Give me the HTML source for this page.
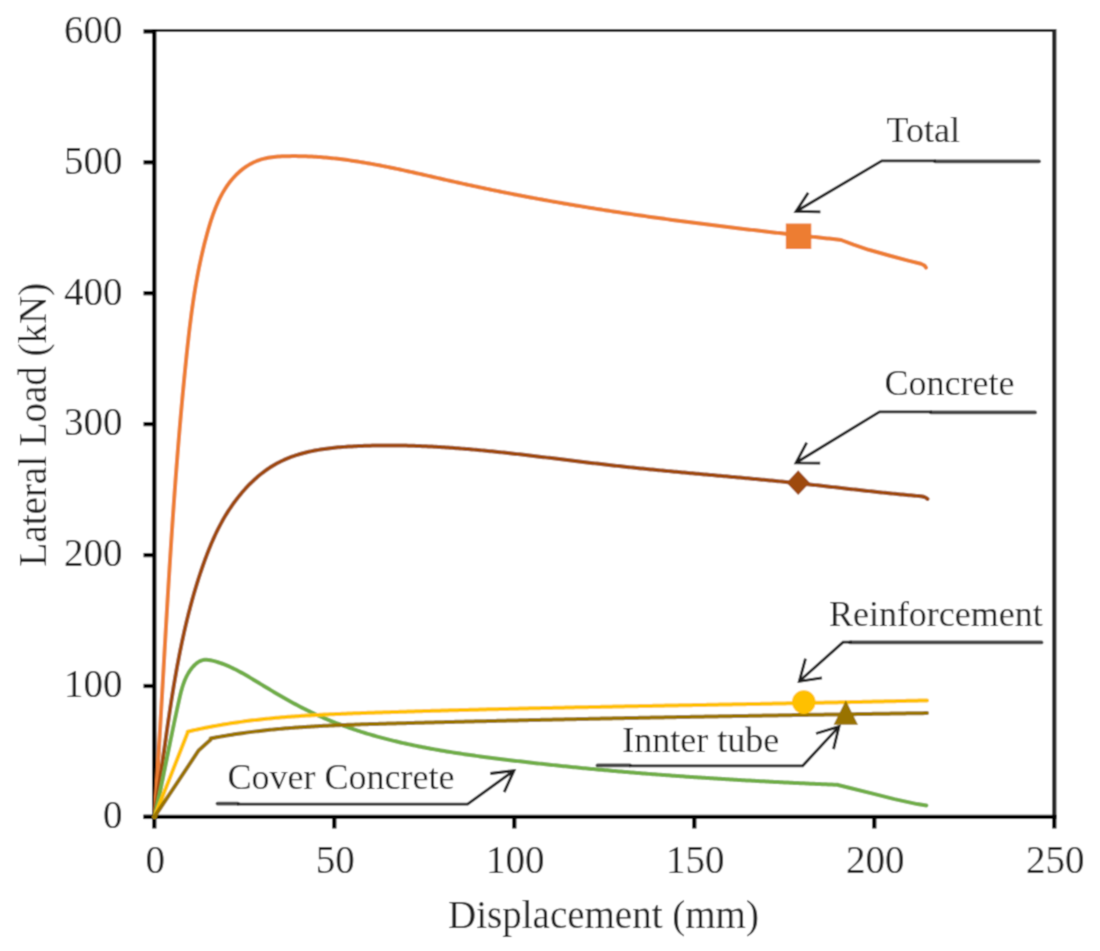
<!DOCTYPE html>
<html><head><meta charset="utf-8"><style>
html,body{margin:0;padding:0;background:#fff;}
svg{display:block;will-change:transform;}
text{font-family:"Liberation Serif", serif;fill:#222;}
</style></head><body>
<svg width="1100" height="951" viewBox="0 0 1100 951">
<defs><filter id="soft" x="0" y="0" width="1100" height="951" filterUnits="userSpaceOnUse"><feConvolveMatrix order="3" kernelMatrix="0.04 0.12 0.04 0.12 0.36 0.12 0.04 0.12 0.04" edgeMode="duplicate"/></filter></defs>
<g filter="url(#soft)">
<rect width="1100" height="951" fill="#fff"/>
<!-- plot border top/right -->
<path d="M156,30.5 H1054.3" fill="none" stroke="#262626" stroke-width="2.8"/>
<path d="M1054.3,29.1 V817" fill="none" stroke="#262626" stroke-width="4.3"/>
<!-- axes -->
<g stroke="#000" stroke-width="4.3" fill="none">
<line x1="154.3" y1="29.2" x2="154.3" y2="819"/>
<line x1="143.5" y1="816.9" x2="1056.5" y2="816.9"/>
<line x1="143.5" y1="816.9" x2="156" y2="816.9"/><line x1="143.5" y1="686.0" x2="156" y2="686.0"/><line x1="143.5" y1="555.1" x2="156" y2="555.1"/><line x1="143.5" y1="424.1" x2="156" y2="424.1"/><line x1="143.5" y1="293.2" x2="156" y2="293.2"/><line x1="143.5" y1="162.3" x2="156" y2="162.3"/><line x1="143.5" y1="31.4" x2="156" y2="31.4"/>
<line x1="154.3" y1="815" x2="154.3" y2="828.5"/><line x1="334.3" y1="815" x2="334.3" y2="828.5"/><line x1="514.3" y1="815" x2="514.3" y2="828.5"/><line x1="694.3" y1="815" x2="694.3" y2="828.5"/><line x1="874.3" y1="815" x2="874.3" y2="828.5"/><line x1="1054.3" y1="815" x2="1054.3" y2="828.5"/>
</g>
<!-- curves -->
<g fill="none" stroke-width="4" stroke-linejoin="round" stroke-linecap="round">
<path d="M154.72,816.77 L154.85,814.78 L154.98,812.80 L155.11,810.81 L155.24,808.83 L155.36,806.84 L155.49,804.85 L155.62,802.87 L155.74,800.88 L155.87,798.89 L156.00,796.91 L156.12,794.92 L156.25,792.93 L156.37,790.94 L156.49,788.96 L156.62,786.97 L156.74,784.98 L156.86,782.99 L156.99,781.00 L157.11,779.01 L157.23,777.02 L157.35,775.03 L157.47,773.04 L157.59,771.05 L157.71,769.06 L157.83,767.07 L157.95,765.08 L158.07,763.09 L158.19,761.10 L158.31,759.11 L158.43,757.11 L158.55,755.12 L158.67,753.13 L158.79,751.14 L158.91,749.14 L159.02,747.15 L159.14,745.16 L159.26,743.17 L159.38,741.17 L159.49,739.18 L159.61,737.18 L159.73,735.19 L159.84,733.20 L159.96,731.20 L160.07,729.21 L160.19,727.21 L160.31,725.22 L160.42,723.22 L160.54,721.23 L160.65,719.23 L160.77,717.24 L160.88,715.24 L161.00,713.25 L161.11,711.25 L161.23,709.25 L161.34,707.26 L161.46,705.26 L161.57,703.27 L161.69,701.27 L161.80,699.27 L161.92,697.28 L162.03,695.28 L162.14,693.28 L162.26,691.28 L162.37,689.29 L162.49,687.29 L162.60,685.29 L162.72,683.30 L162.83,681.30 L162.94,679.30 L163.06,677.30 L163.17,675.30 L163.29,673.31 L163.40,671.31 L163.52,669.31 L163.63,667.31 L163.74,665.31 L163.86,663.31 L163.97,661.31 L164.09,659.32 L164.20,657.32 L164.32,655.32 L164.43,653.32 L164.55,651.32 L164.66,649.32 L164.78,647.32 L164.89,645.32 L165.01,643.32 L165.13,641.32 L165.24,639.33 L165.36,637.33 L165.47,635.33 L165.59,633.33 L165.71,631.33 L165.82,629.33 L165.94,627.33 L166.06,625.33 L166.17,623.33 L166.29,621.33 L166.41,619.33 L166.53,617.33 L166.65,615.33 L166.76,613.33 L166.88,611.33 L167.00,609.33 L167.12,607.33 L167.24,605.33 L167.36,603.33 L167.48,601.33 L167.60,599.33 L167.72,597.33 L167.84,595.33 L167.96,593.33 L168.08,591.33 L168.21,589.34 L168.33,587.34 L168.45,585.34 L168.57,583.34 L168.70,581.34 L168.82,579.34 L168.94,577.34 L169.07,575.34 L169.19,573.34 L169.32,571.34 L169.44,569.34 L169.57,567.34 L169.69,565.34 L169.82,563.34 L169.95,561.34 L170.07,559.35 L170.20,557.35 L170.33,555.35 L170.46,553.35 L170.59,551.35 L170.72,549.35 L170.85,547.35 L170.98,545.35 L171.11,543.36 L171.24,541.36 L171.37,539.36 L171.50,537.36 L171.64,535.36 L171.77,533.36 L171.90,531.37 L172.04,529.37 L172.17,527.37 L172.31,525.37 L172.44,523.38 L172.58,521.38 L172.72,519.38 L172.85,517.38 L172.99,515.39 L173.13,513.39 L173.27,511.39 L173.41,509.40 L173.55,507.40 L173.69,505.41 L173.83,503.41 L173.98,501.41 L174.12,499.42 L174.26,497.42 L174.41,495.43 L174.55,493.43 L174.70,491.43 L174.84,489.44 L174.99,487.44 L175.14,485.45 L175.29,483.46 L175.43,481.46 L175.58,479.47 L175.73,477.47 L175.88,475.48 L176.04,473.48 L176.19,471.49 L176.34,469.50 L176.50,467.50 L176.65,465.51 L176.81,463.52 L176.96,461.53 L177.12,459.53 L177.28,457.54 L177.43,455.55 L177.59,453.56 L177.75,451.57 L177.91,449.57 L178.08,447.58 L178.24,445.59 L178.40,443.60 L178.56,441.61 L178.73,439.62 L178.89,437.63 L179.06,435.64 L179.23,433.65 L179.40,431.66 L179.57,429.67 L179.74,427.68 L179.91,425.69 L180.08,423.71 L180.25,421.72 L180.42,419.73 L180.60,417.74 L180.77,415.75 L180.95,413.77 L181.13,411.78 L181.30,409.79 L181.48,407.81 L181.66,405.82 L181.84,403.83 L182.03,401.85 L182.21,399.86 L182.39,397.88 L182.58,395.89 L182.76,393.91 L182.95,391.93 L183.14,389.94 L183.32,387.96 L183.51,385.97 L183.71,383.99 L183.90,382.01 L184.09,380.03 L184.28,378.04 L184.48,376.06 L184.67,374.08 L184.87,372.10 L185.07,370.12 L185.27,368.14 L185.47,366.16 L185.67,364.18 L185.87,362.20 L186.07,360.22 L186.28,358.24 L186.48,356.26 L186.69,354.29 L186.90,352.31 L187.11,350.33 L187.32,348.35 L187.53,346.38 L187.75,344.40 L187.97,342.42 L188.19,340.45 L188.41,338.47 L188.63,336.50 L188.86,334.52 L189.09,332.55 L189.32,330.57 L189.55,328.60 L189.79,326.62 L190.03,324.65 L190.28,322.67 L190.53,320.70 L190.78,318.73 L191.04,316.76 L191.30,314.78 L191.56,312.81 L191.83,310.84 L192.10,308.86 L192.38,306.89 L192.66,304.92 L192.95,302.95 L193.24,300.98 L193.53,299.01 L193.83,297.03 L194.14,295.06 L194.45,293.09 L194.77,291.12 L195.10,289.15 L195.42,287.18 L195.76,285.21 L196.10,283.24 L196.45,281.27 L196.80,279.30 L197.16,277.33 L197.53,275.35 L197.90,273.38 L198.29,271.41 L198.67,269.44 L199.07,267.47 L199.47,265.50 L199.88,263.53 L200.30,261.56 L200.72,259.59 L201.16,257.62 L201.60,255.65 L202.05,253.68 L202.51,251.71 L202.97,249.74 L203.45,247.77 L203.93,245.80 L204.42,243.83 L204.92,241.86 L205.43,239.89 L205.95,237.92 L206.48,235.95 L207.02,233.98 L207.57,232.01 L208.12,230.04 L208.69,228.07 L209.28,226.10 L209.87,224.14 L210.48,222.18 L211.10,220.23 L211.74,218.29 L212.40,216.35 L213.07,214.42 L213.77,212.50 L214.48,210.60 L215.22,208.70 L215.98,206.82 L216.76,204.96 L217.56,203.11 L218.39,201.28 L219.25,199.46 L220.13,197.67 L221.04,195.89 L221.98,194.14 L222.95,192.40 L223.95,190.69 L224.99,189.01 L226.05,187.35 L227.15,185.72 L228.29,184.11 L229.46,182.54 L230.67,180.99 L231.91,179.48 L233.20,177.99 L234.52,176.54 L235.89,175.13 L237.29,173.75 L238.73,172.42 L240.20,171.12 L241.72,169.87 L243.26,168.67 L244.84,167.51 L246.46,166.41 L248.10,165.36 L249.78,164.37 L251.49,163.43 L253.22,162.55 L254.99,161.74 L256.78,160.99 L258.60,160.31 L260.44,159.69 L262.31,159.14 L264.20,158.65 L266.11,158.22 L268.04,157.83 L269.99,157.50 L271.95,157.21 L273.92,156.97 L275.91,156.76 L277.90,156.60 L279.91,156.46 L281.91,156.35 L283.93,156.26 L285.94,156.20 L287.96,156.16 L289.98,156.13 L291.99,156.11 L294.01,156.10 L296.02,156.11 L298.03,156.13 L300.04,156.16 L302.04,156.21 L304.05,156.26 L306.05,156.33 L308.06,156.41 L310.06,156.50 L312.06,156.60 L314.05,156.71 L316.05,156.83 L318.05,156.96 L320.04,157.11 L322.04,157.26 L324.03,157.42 L326.02,157.59 L328.01,157.78 L330.00,157.97 L331.98,158.17 L333.97,158.38 L335.95,158.60 L337.94,158.83 L339.92,159.06 L341.90,159.31 L343.88,159.56 L345.86,159.82 L347.84,160.09 L349.81,160.37 L351.79,160.66 L353.77,160.95 L355.74,161.25 L357.71,161.55 L359.69,161.87 L361.66,162.19 L363.63,162.51 L365.60,162.85 L367.57,163.19 L369.54,163.53 L371.51,163.88 L373.47,164.24 L375.44,164.60 L377.40,164.97 L379.37,165.34 L381.33,165.72 L383.30,166.10 L385.26,166.49 L387.22,166.88 L389.19,167.28 L391.15,167.68 L393.11,168.08 L395.07,168.49 L397.03,168.90 L398.99,169.32 L400.95,169.74 L402.91,170.16 L404.86,170.59 L406.82,171.01 L408.78,171.44 L410.74,171.88 L412.69,172.31 L414.65,172.75 L416.61,173.19 L418.56,173.63 L420.52,174.07 L422.48,174.51 L424.43,174.96 L426.39,175.40 L428.34,175.85 L430.30,176.30 L432.25,176.75 L434.21,177.19 L436.17,177.64 L438.12,178.09 L440.08,178.54 L442.03,178.99 L443.99,179.44 L445.94,179.88 L447.90,180.33 L449.85,180.78 L451.81,181.22 L453.77,181.66 L455.72,182.10 L457.68,182.54 L459.63,182.98 L461.59,183.42 L463.55,183.85 L465.51,184.28 L467.46,184.71 L469.42,185.14 L471.38,185.56 L473.34,185.99 L475.30,186.41 L477.26,186.83 L479.22,187.25 L481.17,187.66 L483.13,188.07 L485.09,188.49 L487.05,188.89 L489.02,189.30 L490.98,189.71 L492.94,190.11 L494.90,190.51 L496.86,190.91 L498.82,191.31 L500.78,191.70 L502.75,192.10 L504.71,192.49 L506.67,192.88 L508.63,193.27 L510.60,193.65 L512.56,194.04 L514.52,194.42 L516.49,194.80 L518.45,195.18 L520.42,195.56 L522.38,195.93 L524.35,196.31 L526.31,196.68 L528.28,197.05 L530.24,197.42 L532.21,197.78 L534.17,198.15 L536.14,198.51 L538.11,198.87 L540.07,199.23 L542.04,199.59 L544.01,199.94 L545.98,200.30 L547.94,200.65 L549.91,201.00 L551.88,201.35 L553.85,201.70 L555.82,202.04 L557.79,202.39 L559.75,202.73 L561.72,203.07 L563.69,203.41 L565.66,203.75 L567.63,204.09 L569.60,204.42 L571.57,204.75 L573.54,205.09 L575.51,205.42 L577.49,205.74 L579.46,206.07 L581.43,206.40 L583.40,206.72 L585.37,207.04 L587.34,207.36 L589.32,207.68 L591.29,208.00 L593.26,208.32 L595.23,208.64 L597.21,208.95 L599.18,209.26 L601.15,209.57 L603.13,209.88 L605.10,210.19 L607.08,210.50 L609.05,210.80 L611.02,211.11 L613.00,211.41 L614.97,211.71 L616.95,212.01 L618.92,212.31 L620.90,212.61 L622.87,212.91 L624.85,213.20 L626.83,213.49 L628.80,213.79 L630.78,214.08 L632.76,214.37 L634.73,214.66 L636.71,214.95 L638.69,215.23 L640.66,215.52 L642.64,215.80 L644.62,216.08 L646.60,216.37 L648.57,216.65 L650.55,216.92 L652.53,217.20 L654.51,217.48 L656.49,217.76 L658.47,218.03 L660.45,218.30 L662.43,218.58 L664.41,218.85 L666.39,219.12 L668.37,219.39 L670.35,219.66 L672.33,219.92 L674.31,220.19 L676.29,220.46 L678.27,220.72 L680.25,220.98 L682.23,221.25 L684.21,221.51 L686.19,221.77 L688.17,222.03 L690.15,222.29 L692.14,222.54 L694.12,222.80 L696.10,223.05 L698.08,223.31 L700.06,223.56 L702.05,223.82 L704.03,224.07 L706.01,224.32 L708.00,224.57 L709.98,224.82 L711.96,225.07 L713.95,225.32 L715.93,225.56 L717.91,225.81 L719.90,226.05 L721.88,226.30 L723.87,226.54 L725.85,226.79 L727.83,227.03 L729.82,227.27 L731.80,227.51 L733.79,227.75 L735.77,227.99 L737.76,228.23 L739.74,228.47 L741.73,228.70 L743.72,228.94 L745.70,229.18 L747.69,229.41 L749.67,229.64 L751.66,229.88 L753.65,230.11 L755.63,230.34 L757.62,230.58 L759.61,230.81 L761.59,231.04 L763.58,231.27 L765.57,231.50 L767.55,231.73 L769.54,231.96 L771.53,232.18 L773.52,232.41 L775.50,232.64 L777.49,232.87 L779.48,233.09 L781.47,233.32 L783.46,233.54 L785.44,233.77 L787.43,233.99 L789.42,234.22 L791.41,234.44 L793.40,234.66 L795.39,234.88 L797.38,235.11 L799.37,235.33 L801.36,235.55 L803.34,235.77 L805.33,235.99 L807.32,236.21 L809.31,236.43 L811.30,236.65 L813.29,236.87 L815.28,237.09 L817.27,237.31 L819.26,237.52 L821.25,237.74 L823.24,237.96 L825.23,238.18 L827.23,238.39 L829.22,238.61 L831.21,238.83 L833.20,239.04 L835.19,239.26 L837.18,239.48 L839.17,239.69 L841.16,239.91 L841.1,240.0 L853.5,244.7 L868.7,249.8 L889.1,255.5 L908.2,260.6 L920.9,263.8 L924.5,265.5 L926.0,267.6" stroke="#ED7D31"/>
<path d="M154.54,816.70 L154.84,814.76 L155.15,812.81 L155.45,810.87 L155.74,808.92 L156.04,806.97 L156.33,805.02 L156.63,803.06 L156.92,801.11 L157.21,799.15 L157.50,797.19 L157.78,795.23 L158.07,793.27 L158.35,791.31 L158.64,789.35 L158.92,787.39 L159.20,785.42 L159.48,783.45 L159.76,781.49 L160.04,779.52 L160.32,777.55 L160.60,775.58 L160.87,773.61 L161.15,771.63 L161.42,769.66 L161.70,767.69 L161.98,765.71 L162.25,763.73 L162.53,761.76 L162.80,759.78 L163.08,757.80 L163.35,755.82 L163.63,753.84 L163.90,751.86 L164.18,749.88 L164.46,747.90 L164.74,745.92 L165.01,743.94 L165.29,741.96 L165.57,739.97 L165.85,737.99 L166.13,736.01 L166.42,734.02 L166.70,732.04 L166.98,730.06 L167.27,728.07 L167.56,726.09 L167.84,724.10 L168.13,722.12 L168.42,720.13 L168.72,718.15 L169.01,716.17 L169.31,714.18 L169.60,712.20 L169.90,710.21 L170.21,708.23 L170.51,706.25 L170.82,704.27 L171.12,702.28 L171.43,700.30 L171.75,698.32 L172.06,696.34 L172.38,694.36 L172.70,692.38 L173.02,690.40 L173.35,688.42 L173.67,686.44 L174.01,684.46 L174.34,682.48 L174.68,680.51 L175.02,678.53 L175.36,676.56 L175.71,674.58 L176.05,672.61 L176.41,670.64 L176.76,668.67 L177.12,666.69 L177.49,664.73 L177.86,662.76 L178.23,660.79 L178.60,658.82 L178.98,656.86 L179.36,654.90 L179.75,652.93 L180.14,650.97 L180.54,649.01 L180.94,647.05 L181.34,645.10 L181.75,643.14 L182.16,641.19 L182.58,639.23 L183.00,637.28 L183.43,635.33 L183.86,633.39 L184.29,631.44 L184.74,629.50 L185.18,627.55 L185.63,625.61 L186.09,623.67 L186.55,621.73 L187.02,619.80 L187.49,617.86 L187.97,615.93 L188.45,614.00 L188.94,612.08 L189.44,610.15 L189.94,608.23 L190.45,606.30 L190.96,604.38 L191.48,602.47 L192.00,600.55 L192.53,598.64 L193.07,596.73 L193.62,594.82 L194.17,592.92 L194.72,591.01 L195.29,589.11 L195.85,587.21 L196.43,585.32 L197.01,583.42 L197.60,581.53 L198.20,579.64 L198.80,577.76 L199.42,575.88 L200.03,574.00 L200.66,572.12 L201.29,570.24 L201.93,568.37 L202.58,566.50 L203.23,564.64 L203.90,562.78 L204.57,560.92 L205.25,559.06 L205.93,557.21 L206.63,555.36 L207.33,553.51 L208.05,551.67 L208.78,549.83 L209.51,547.99 L210.26,546.16 L211.02,544.34 L211.80,542.51 L212.59,540.70 L213.39,538.89 L214.20,537.08 L215.03,535.28 L215.88,533.48 L216.74,531.69 L217.62,529.91 L218.52,528.13 L219.43,526.35 L220.36,524.59 L221.31,522.83 L222.28,521.07 L223.26,519.32 L224.27,517.58 L225.30,515.85 L226.35,514.12 L227.42,512.41 L228.51,510.69 L229.63,508.99 L230.77,507.29 L231.93,505.61 L233.11,503.93 L234.31,502.27 L235.54,500.62 L236.79,498.98 L238.05,497.36 L239.34,495.75 L240.65,494.15 L241.98,492.58 L243.32,491.02 L244.69,489.48 L246.08,487.96 L247.49,486.46 L248.91,484.98 L250.36,483.53 L251.82,482.09 L253.30,480.68 L254.80,479.30 L256.32,477.94 L257.85,476.61 L259.40,475.31 L260.97,474.04 L262.55,472.79 L264.16,471.58 L265.77,470.40 L267.41,469.25 L269.06,468.13 L270.72,467.05 L272.40,466.00 L274.10,464.99 L275.81,464.02 L277.53,463.08 L279.27,462.17 L281.03,461.30 L282.79,460.46 L284.57,459.65 L286.36,458.88 L288.17,458.13 L289.98,457.42 L291.81,456.74 L293.65,456.08 L295.50,455.45 L297.36,454.85 L299.23,454.28 L301.10,453.73 L302.99,453.21 L304.89,452.71 L306.80,452.24 L308.71,451.79 L310.63,451.36 L312.56,450.96 L314.50,450.57 L316.45,450.21 L318.40,449.87 L320.35,449.54 L322.32,449.23 L324.28,448.95 L326.26,448.67 L328.23,448.42 L330.22,448.18 L332.20,447.95 L334.19,447.74 L336.18,447.55 L338.18,447.36 L340.18,447.19 L342.18,447.03 L344.18,446.88 L346.18,446.74 L348.19,446.61 L350.19,446.49 L352.20,446.38 L354.20,446.27 L356.21,446.17 L358.21,446.08 L360.22,445.99 L362.22,445.91 L364.23,445.84 L366.23,445.77 L368.23,445.71 L370.23,445.65 L372.24,445.60 L374.24,445.56 L376.24,445.52 L378.24,445.49 L380.24,445.46 L382.24,445.44 L384.24,445.43 L386.24,445.42 L388.24,445.41 L390.24,445.42 L392.24,445.42 L394.24,445.44 L396.24,445.46 L398.23,445.48 L400.23,445.51 L402.23,445.54 L404.22,445.58 L406.22,445.62 L408.22,445.67 L410.21,445.73 L412.21,445.78 L414.20,445.85 L416.20,445.91 L418.19,445.99 L420.19,446.06 L422.18,446.14 L424.18,446.23 L426.17,446.32 L428.16,446.42 L430.16,446.51 L432.15,446.62 L434.14,446.72 L436.13,446.83 L438.13,446.95 L440.12,447.07 L442.11,447.19 L444.10,447.32 L446.09,447.45 L448.08,447.58 L450.07,447.72 L452.06,447.86 L454.05,448.01 L456.04,448.15 L458.03,448.31 L460.02,448.46 L462.01,448.62 L464.00,448.78 L465.99,448.95 L467.98,449.11 L469.97,449.28 L471.96,449.46 L473.94,449.63 L475.93,449.81 L477.92,449.99 L479.91,450.18 L481.89,450.37 L483.88,450.56 L485.87,450.75 L487.86,450.94 L489.84,451.14 L491.83,451.34 L493.82,451.54 L495.80,451.75 L497.79,451.95 L499.77,452.16 L501.76,452.37 L503.75,452.58 L505.73,452.80 L507.72,453.01 L509.70,453.23 L511.69,453.45 L513.67,453.67 L515.66,453.89 L517.64,454.12 L519.63,454.34 L521.61,454.57 L523.60,454.80 L525.58,455.03 L527.57,455.26 L529.55,455.49 L531.54,455.72 L533.52,455.96 L535.51,456.19 L537.49,456.43 L539.47,456.66 L541.46,456.90 L543.44,457.14 L545.43,457.38 L547.41,457.62 L549.39,457.86 L551.38,458.10 L553.36,458.34 L555.35,458.58 L557.33,458.82 L559.31,459.06 L561.30,459.30 L563.28,459.54 L565.26,459.79 L567.25,460.03 L569.23,460.27 L571.22,460.51 L573.20,460.75 L575.18,460.99 L577.17,461.23 L579.15,461.47 L581.13,461.71 L583.12,461.95 L585.10,462.19 L587.09,462.43 L589.07,462.67 L591.05,462.90 L593.04,463.14 L595.02,463.37 L597.00,463.61 L598.99,463.84 L600.97,464.07 L602.96,464.30 L604.94,464.53 L606.93,464.76 L608.91,464.99 L610.89,465.21 L612.88,465.44 L614.86,465.66 L616.85,465.88 L618.83,466.10 L620.82,466.32 L622.80,466.53 L624.79,466.75 L626.77,466.96 L628.76,467.17 L630.74,467.38 L632.73,467.59 L634.71,467.79 L636.70,468.00 L638.68,468.20 L640.67,468.40 L642.66,468.61 L644.64,468.81 L646.63,469.01 L648.61,469.20 L650.60,469.40 L652.58,469.59 L654.57,469.79 L656.56,469.98 L658.54,470.17 L660.53,470.37 L662.52,470.56 L664.50,470.75 L666.49,470.93 L668.47,471.12 L670.46,471.31 L672.45,471.49 L674.43,471.68 L676.42,471.86 L678.41,472.05 L680.39,472.23 L682.38,472.41 L684.37,472.60 L686.35,472.78 L688.34,472.96 L690.33,473.14 L692.32,473.32 L694.30,473.50 L696.29,473.68 L698.28,473.86 L700.26,474.04 L702.25,474.22 L704.24,474.40 L706.23,474.57 L708.21,474.75 L710.20,474.93 L712.19,475.11 L714.18,475.29 L716.16,475.46 L718.15,475.64 L720.14,475.82 L722.13,476.00 L724.11,476.18 L726.10,476.36 L728.09,476.54 L730.08,476.71 L732.06,476.89 L734.05,477.07 L736.04,477.25 L738.03,477.43 L740.01,477.61 L742.00,477.80 L743.99,477.98 L745.98,478.16 L747.97,478.34 L749.95,478.53 L751.94,478.71 L753.93,478.89 L755.92,479.08 L757.90,479.27 L759.89,479.45 L761.88,479.64 L763.87,479.83 L765.85,480.02 L767.84,480.21 L769.83,480.40 L771.82,480.59 L773.81,480.78 L775.79,480.98 L777.78,481.17 L779.77,481.37 L781.76,481.57 L783.74,481.77 L785.73,481.97 L787.72,482.17 L789.71,482.37 L791.69,482.57 L793.68,482.78 L795.67,482.99 L797.66,483.19 L799.64,483.40 L801.63,483.61 L803.62,483.83 L805.61,484.04 L807.59,484.26 L809.58,484.47 L811.57,484.69 L813.56,484.91 L815.54,485.13 L817.53,485.35 L819.52,485.57 L821.50,485.79 L823.49,486.01 L825.48,486.23 L827.46,486.45 L829.45,486.68 L831.44,486.90 L833.42,487.13 L835.41,487.35 L837.40,487.57 L839.38,487.80 L841.37,488.02 L843.35,488.25 L845.34,488.47 L847.32,488.70 L849.31,488.92 L851.29,489.14 L853.28,489.37 L855.26,489.59 L857.25,489.81 L859.23,490.03 L861.22,490.25 L863.20,490.47 L865.18,490.69 L867.17,490.91 L869.15,491.13 L871.14,491.34 L873.12,491.56 L875.10,491.77 L877.08,491.99 L879.07,492.20 L881.05,492.41 L883.03,492.62 L885.01,492.82 L886.99,493.03 L888.97,493.23 L890.96,493.43 L892.94,493.63 L894.92,493.83 L896.90,494.03 L898.88,494.22 L900.86,494.41 L902.84,494.60 L904.81,494.79 L906.79,494.98 L908.77,495.16 L910.75,495.34 L912.73,495.52 L914.71,495.69 L916.68,495.87 L918.66,496.04 L920.62,496.23 L922.52,496.54 L924.33,497.04 L925.99,497.81 L927.47,498.94" stroke="#9E480E"/>
<path d="M154.57,816.95 L155.01,814.97 L155.45,813.00 L155.89,811.03 L156.32,809.06 L156.75,807.09 L157.18,805.13 L157.61,803.17 L158.03,801.21 L158.45,799.25 L158.87,797.29 L159.28,795.33 L159.70,793.38 L160.11,791.43 L160.52,789.48 L160.92,787.53 L161.33,785.58 L161.73,783.63 L162.14,781.68 L162.54,779.74 L162.94,777.79 L163.34,775.85 L163.73,773.91 L164.13,771.96 L164.52,770.02 L164.92,768.08 L165.31,766.14 L165.71,764.20 L166.10,762.26 L166.49,760.32 L166.89,758.37 L167.28,756.43 L167.67,754.49 L168.07,752.55 L168.46,750.61 L168.85,748.67 L169.25,746.73 L169.64,744.78 L170.04,742.84 L170.44,740.90 L170.83,738.95 L171.23,737.00 L171.63,735.06 L172.03,733.11 L172.43,731.16 L172.84,729.21 L173.24,727.26 L173.65,725.30 L174.06,723.35 L174.47,721.39 L174.89,719.43 L175.30,717.47 L175.72,715.51 L176.14,713.55 L176.56,711.58 L176.99,709.62 L177.42,707.65 L177.85,705.67 L178.28,703.70 L178.72,701.72 L179.16,699.74 L179.61,697.76 L180.07,695.78 L180.54,693.81 L181.04,691.84 L181.57,689.88 L182.12,687.94 L182.72,686.00 L183.35,684.09 L184.04,682.20 L184.78,680.32 L185.57,678.48 L186.43,676.66 L187.36,674.87 L188.36,673.12 L189.44,671.40 L190.61,669.72 L191.86,668.08 L193.21,666.49 L194.65,664.99 L196.16,663.60 L197.76,662.38 L199.43,661.35 L201.15,660.57 L202.94,660.06 L204.77,659.81 L206.64,659.79 L208.54,659.94 L210.45,660.25 L212.36,660.66 L214.27,661.14 L216.16,661.67 L218.04,662.24 L219.90,662.85 L221.75,663.50 L223.59,664.18 L225.41,664.90 L227.22,665.65 L229.02,666.43 L230.81,667.25 L232.59,668.08 L234.37,668.95 L236.13,669.84 L237.89,670.75 L239.64,671.68 L241.38,672.63 L243.12,673.60 L244.85,674.58 L246.58,675.58 L248.31,676.59 L250.03,677.61 L251.75,678.64 L253.47,679.68 L255.19,680.72 L256.91,681.76 L258.63,682.81 L260.35,683.86 L262.07,684.91 L263.79,685.95 L265.52,687.00 L267.25,688.04 L268.98,689.08 L270.71,690.12 L272.44,691.15 L274.18,692.19 L275.92,693.21 L277.66,694.23 L279.40,695.25 L281.15,696.26 L282.89,697.27 L284.65,698.27 L286.40,699.27 L288.16,700.25 L289.92,701.23 L291.68,702.21 L293.45,703.17 L295.22,704.13 L296.99,705.07 L298.77,706.01 L300.55,706.94 L302.33,707.86 L304.12,708.77 L305.91,709.66 L307.70,710.55 L309.50,711.42 L311.30,712.29 L313.11,713.14 L314.92,713.98 L316.73,714.82 L318.55,715.64 L320.37,716.45 L322.19,717.25 L324.02,718.04 L325.85,718.81 L327.68,719.58 L329.52,720.34 L331.36,721.09 L333.21,721.83 L335.05,722.56 L336.90,723.28 L338.76,723.99 L340.61,724.69 L342.47,725.38 L344.34,726.06 L346.20,726.74 L348.07,727.40 L349.94,728.05 L351.82,728.70 L353.70,729.34 L355.58,729.97 L357.46,730.59 L359.35,731.20 L361.24,731.80 L363.13,732.39 L365.02,732.98 L366.92,733.56 L368.82,734.13 L370.72,734.69 L372.62,735.24 L374.53,735.79 L376.44,736.33 L378.35,736.86 L380.26,737.38 L382.18,737.90 L384.10,738.41 L386.02,738.91 L387.94,739.40 L389.87,739.89 L391.79,740.37 L393.72,740.85 L395.65,741.31 L397.59,741.77 L399.52,742.23 L401.46,742.68 L403.40,743.12 L405.34,743.55 L407.28,743.98 L409.23,744.40 L411.17,744.82 L413.12,745.23 L415.07,745.64 L417.02,746.04 L418.97,746.43 L420.93,746.82 L422.88,747.20 L424.84,747.58 L426.80,747.95 L428.76,748.32 L430.72,748.68 L432.69,749.04 L434.65,749.39 L436.61,749.74 L438.58,750.09 L440.55,750.42 L442.52,750.76 L444.49,751.09 L446.46,751.41 L448.43,751.74 L450.40,752.05 L452.38,752.37 L454.35,752.68 L456.33,752.98 L458.31,753.29 L460.28,753.59 L462.26,753.88 L464.24,754.17 L466.22,754.46 L468.20,754.75 L470.18,755.03 L472.16,755.31 L474.15,755.59 L476.13,755.86 L478.11,756.13 L480.10,756.40 L482.08,756.67 L484.06,756.93 L486.05,757.19 L488.03,757.45 L490.02,757.71 L492.00,757.96 L493.99,758.21 L495.97,758.47 L497.96,758.71 L499.95,758.96 L501.93,759.21 L503.92,759.45 L505.90,759.70 L507.89,759.94 L509.87,760.18 L511.86,760.42 L513.85,760.65 L515.83,760.89 L517.82,761.12 L519.80,761.36 L521.79,761.59 L523.77,761.82 L525.76,762.05 L527.74,762.28 L529.73,762.51 L531.71,762.73 L533.70,762.95 L535.68,763.18 L537.67,763.40 L539.65,763.62 L541.64,763.84 L543.62,764.06 L545.61,764.27 L547.59,764.49 L549.58,764.70 L551.56,764.91 L553.55,765.12 L555.53,765.33 L557.52,765.54 L559.50,765.75 L561.49,765.96 L563.47,766.16 L565.46,766.36 L567.44,766.57 L569.43,766.77 L571.41,766.97 L573.40,767.17 L575.38,767.36 L577.37,767.56 L579.35,767.76 L581.34,767.95 L583.32,768.14 L585.31,768.33 L587.29,768.52 L589.28,768.71 L591.26,768.90 L593.25,769.09 L595.23,769.27 L597.22,769.46 L599.20,769.64 L601.19,769.82 L603.17,770.00 L605.16,770.18 L607.14,770.36 L609.13,770.54 L611.11,770.72 L613.10,770.89 L615.08,771.07 L617.07,771.24 L619.06,771.41 L621.04,771.58 L623.03,771.75 L625.01,771.92 L627.00,772.09 L628.98,772.26 L630.97,772.42 L632.95,772.59 L634.94,772.75 L636.93,772.91 L638.91,773.07 L640.90,773.23 L642.88,773.39 L644.87,773.55 L646.86,773.71 L648.84,773.87 L650.83,774.02 L652.81,774.18 L654.80,774.33 L656.79,774.48 L658.77,774.63 L660.76,774.78 L662.75,774.93 L664.73,775.08 L666.72,775.23 L668.71,775.37 L670.69,775.52 L672.68,775.66 L674.67,775.81 L676.66,775.95 L678.64,776.09 L680.63,776.23 L682.62,776.37 L684.61,776.51 L686.59,776.65 L688.58,776.79 L690.57,776.92 L692.56,777.06 L694.55,777.19 L696.53,777.33 L698.52,777.46 L700.51,777.59 L702.50,777.72 L704.49,777.85 L706.48,777.98 L708.46,778.11 L710.45,778.23 L712.44,778.36 L714.43,778.49 L716.42,778.61 L718.41,778.74 L720.40,778.86 L722.39,778.98 L724.38,779.10 L726.37,779.22 L728.36,779.34 L730.35,779.46 L732.34,779.58 L734.33,779.70 L736.32,779.81 L738.31,779.93 L740.30,780.05 L742.29,780.16 L744.28,780.27 L746.28,780.39 L748.27,780.50 L750.26,780.61 L752.25,780.72 L754.24,780.83 L756.23,780.94 L758.23,781.05 L760.22,781.16 L762.21,781.26 L764.20,781.37 L766.20,781.47 L768.19,781.58 L770.18,781.68 L772.17,781.79 L774.17,781.89 L776.16,781.99 L778.16,782.09 L780.15,782.19 L782.14,782.29 L784.14,782.39 L786.13,782.49 L788.13,782.59 L790.12,782.69 L792.12,782.78 L794.11,782.88 L796.11,782.98 L798.10,783.07 L800.10,783.17 L802.09,783.26 L804.09,783.35 L806.08,783.44 L808.08,783.54 L810.08,783.63 L812.07,783.72 L814.07,783.81 L816.07,783.90 L818.07,783.99 L820.06,784.08 L822.06,784.16 L824.06,784.25 L826.06,784.34 L828.06,784.42 L830.05,784.51 L832.05,784.59 L834.05,784.68 L836.05,784.76 L838.05,784.85 L838.0,785.0 L849.1,787.7 L871.8,793.4 L894.5,799.1 L917.3,804.1 L926.4,805.5" stroke="#70AD47"/>
<path d="M154.5,816.9 L187.8,732.2 L187.69,731.65 L189.64,731.20 L191.58,730.75 L193.53,730.30 L195.48,729.87 L197.43,729.44 L199.38,729.03 L201.33,728.62 L203.28,728.21 L205.23,727.82 L207.19,727.43 L209.14,727.05 L211.10,726.68 L213.06,726.31 L215.02,725.95 L216.98,725.60 L218.94,725.25 L220.90,724.91 L222.86,724.58 L224.82,724.26 L226.79,723.94 L228.75,723.63 L230.72,723.32 L232.68,723.02 L234.65,722.73 L236.62,722.44 L238.59,722.16 L240.56,721.89 L242.53,721.62 L244.50,721.35 L246.47,721.10 L248.45,720.84 L250.42,720.60 L252.40,720.36 L254.37,720.12 L256.35,719.89 L258.32,719.67 L260.30,719.45 L262.28,719.23 L264.26,719.02 L266.24,718.82 L268.22,718.62 L270.20,718.42 L272.18,718.23 L274.16,718.05 L276.15,717.86 L278.13,717.69 L280.11,717.51 L282.10,717.35 L284.08,717.18 L286.07,717.02 L288.05,716.86 L290.04,716.71 L292.03,716.56 L294.01,716.42 L296.00,716.27 L297.99,716.14 L299.98,716.00 L301.97,715.87 L303.96,715.74 L305.95,715.62 L307.94,715.49 L309.93,715.38 L311.92,715.26 L313.91,715.15 L315.91,715.04 L317.90,714.93 L319.89,714.82 L321.89,714.72 L323.88,714.62 L325.87,714.52 L327.87,714.43 L329.86,714.33 L331.86,714.24 L333.85,714.15 L335.85,714.07 L337.84,713.98 L339.84,713.90 L341.83,713.82 L343.83,713.74 L345.82,713.66 L347.82,713.58 L349.82,713.50 L351.81,713.43 L353.81,713.35 L355.81,713.28 L357.80,713.21 L359.80,713.14 L361.80,713.07 L363.79,713.00 L365.79,712.93 L367.79,712.86 L369.79,712.80 L371.78,712.73 L373.78,712.66 L375.78,712.60 L377.77,712.53 L379.77,712.46 L381.77,712.40 L383.77,712.33 L385.76,712.27 L387.76,712.20 L389.76,712.14 L391.75,712.08 L393.75,712.01 L395.75,711.95 L397.75,711.89 L399.74,711.82 L401.74,711.76 L403.74,711.70 L405.74,711.64 L407.73,711.58 L409.73,711.52 L411.73,711.46 L413.72,711.40 L415.72,711.34 L417.72,711.28 L419.72,711.22 L421.71,711.16 L423.71,711.10 L425.71,711.04 L427.71,710.98 L429.70,710.93 L431.70,710.87 L433.70,710.81 L435.70,710.76 L437.69,710.70 L439.69,710.64 L441.69,710.59 L443.69,710.53 L445.68,710.48 L447.68,710.42 L449.68,710.37 L451.68,710.31 L453.67,710.26 L455.67,710.20 L457.67,710.15 L459.67,710.10 L461.66,710.04 L463.66,709.99 L465.66,709.94 L467.65,709.88 L469.65,709.83 L471.65,709.78 L473.65,709.73 L475.64,709.68 L477.64,709.63 L479.64,709.57 L481.64,709.52 L483.63,709.47 L485.63,709.42 L487.63,709.37 L489.63,709.32 L491.62,709.27 L493.62,709.22 L495.62,709.18 L497.62,709.13 L499.61,709.08 L501.61,709.03 L503.61,708.98 L505.61,708.93 L507.60,708.89 L509.60,708.84 L511.60,708.79 L513.60,708.74 L515.59,708.70 L517.59,708.65 L519.59,708.60 L521.59,708.56 L523.58,708.51 L525.58,708.46 L527.58,708.42 L529.58,708.37 L531.57,708.33 L533.57,708.28 L535.57,708.24 L537.57,708.19 L539.57,708.15 L541.56,708.10 L543.56,708.06 L545.56,708.02 L547.56,707.97 L549.55,707.93 L551.55,707.88 L553.55,707.84 L555.55,707.80 L557.54,707.75 L559.54,707.71 L561.54,707.67 L563.54,707.63 L565.53,707.58 L567.53,707.54 L569.53,707.50 L571.53,707.46 L573.52,707.42 L575.52,707.37 L577.52,707.33 L579.52,707.29 L581.51,707.25 L583.51,707.21 L585.51,707.17 L587.51,707.13 L589.50,707.09 L591.50,707.05 L593.50,707.01 L595.50,706.96 L597.49,706.92 L599.49,706.88 L601.49,706.84 L603.49,706.80 L605.48,706.76 L607.48,706.73 L609.48,706.69 L611.48,706.65 L613.47,706.61 L615.47,706.57 L617.47,706.53 L619.46,706.49 L621.46,706.45 L623.46,706.41 L625.46,706.37 L627.45,706.33 L629.45,706.30 L631.45,706.26 L633.45,706.22 L635.44,706.18 L637.44,706.14 L639.44,706.10 L641.44,706.07 L643.43,706.03 L645.43,705.99 L647.43,705.95 L649.43,705.92 L651.42,705.88 L653.42,705.84 L655.42,705.80 L657.42,705.76 L659.41,705.73 L661.41,705.69 L663.41,705.65 L665.40,705.62 L667.40,705.58 L669.40,705.54 L671.40,705.50 L673.39,705.47 L675.39,705.43 L677.39,705.39 L679.39,705.36 L681.38,705.32 L683.38,705.28 L685.38,705.24 L687.38,705.21 L689.37,705.17 L691.37,705.13 L693.37,705.10 L695.36,705.06 L697.36,705.02 L699.36,704.99 L701.36,704.95 L703.35,704.91 L705.35,704.88 L707.35,704.84 L709.34,704.80 L711.34,704.77 L713.34,704.73 L715.34,704.69 L717.33,704.66 L719.33,704.62 L721.33,704.58 L723.32,704.55 L725.32,704.51 L727.32,704.47 L729.32,704.44 L731.31,704.40 L733.31,704.36 L735.31,704.33 L737.30,704.29 L739.30,704.25 L741.30,704.22 L743.29,704.18 L745.29,704.14 L747.29,704.11 L749.29,704.07 L751.28,704.03 L753.28,703.99 L755.28,703.96 L757.27,703.92 L759.27,703.88 L761.27,703.85 L763.26,703.81 L765.26,703.77 L767.26,703.73 L769.26,703.70 L771.25,703.66 L773.25,703.62 L775.25,703.58 L777.24,703.55 L779.24,703.51 L781.24,703.47 L783.23,703.43 L785.23,703.40 L787.23,703.36 L789.22,703.32 L791.22,703.28 L793.22,703.24 L795.21,703.20 L797.21,703.17 L799.21,703.13 L801.20,703.09 L803.20,703.05 L805.20,703.01 L807.19,702.97 L809.19,702.93 L811.19,702.89 L813.18,702.86 L815.18,702.82 L817.18,702.78 L819.17,702.74 L821.17,702.70 L823.17,702.66 L825.16,702.62 L827.16,702.58 L829.16,702.54 L831.15,702.50 L833.15,702.46 L835.15,702.42 L837.14,702.38 L839.14,702.34 L841.13,702.30 L843.13,702.25 L845.13,702.21 L847.12,702.17 L849.12,702.13 L851.12,702.09 L853.11,702.05 L855.11,702.01 L857.11,701.96 L859.10,701.92 L861.10,701.88 L863.09,701.84 L865.09,701.80 L867.09,701.75 L869.08,701.71 L871.08,701.67 L873.08,701.62 L875.07,701.58 L877.07,701.54 L879.06,701.49 L881.06,701.45 L883.06,701.41 L885.05,701.36 L887.05,701.32 L889.04,701.27 L891.04,701.23 L893.04,701.18 L895.03,701.14 L897.03,701.09 L899.02,701.05 L901.02,701.00 L903.02,700.96 L905.01,700.91 L907.01,700.86 L909.00,700.82 L911.00,700.77 L913.00,700.72 L914.99,700.68 L916.99,700.63 L918.98,700.58 L920.98,700.53 L922.97,700.49 L924.97,700.44 L926.97,700.39" stroke="#FFC000"/>
<path d="M154.5,816.9 L198.8,750.2 L210.8,739.4 L210.61,738.45 L212.57,738.07 L214.54,737.70 L216.50,737.33 L218.47,736.97 L220.43,736.62 L222.40,736.27 L224.37,735.93 L226.33,735.60 L228.30,735.28 L230.27,734.96 L232.24,734.65 L234.21,734.34 L236.18,734.04 L238.16,733.75 L240.13,733.46 L242.10,733.18 L244.08,732.90 L246.05,732.63 L248.03,732.37 L250.01,732.11 L251.98,731.86 L253.96,731.61 L255.94,731.37 L257.92,731.14 L259.90,730.91 L261.88,730.68 L263.86,730.46 L265.84,730.25 L267.83,730.04 L269.81,729.83 L271.79,729.63 L273.78,729.43 L275.76,729.24 L277.75,729.06 L279.73,728.88 L281.72,728.70 L283.70,728.53 L285.69,728.36 L287.68,728.19 L289.67,728.03 L291.65,727.88 L293.64,727.73 L295.63,727.58 L297.62,727.43 L299.61,727.29 L301.60,727.16 L303.59,727.02 L305.59,726.89 L307.58,726.77 L309.57,726.64 L311.56,726.52 L313.55,726.41 L315.55,726.29 L317.54,726.18 L319.53,726.08 L321.53,725.97 L323.52,725.87 L325.52,725.77 L327.51,725.67 L329.51,725.58 L331.50,725.49 L333.50,725.40 L335.50,725.31 L337.49,725.23 L339.49,725.15 L341.49,725.07 L343.48,724.99 L345.48,724.91 L347.48,724.84 L349.47,724.77 L351.47,724.69 L353.47,724.63 L355.47,724.56 L357.47,724.49 L359.47,724.43 L361.46,724.36 L363.46,724.30 L365.46,724.24 L367.46,724.18 L369.46,724.12 L371.46,724.06 L373.46,724.00 L375.46,723.95 L377.45,723.89 L379.45,723.83 L381.45,723.78 L383.45,723.72 L385.45,723.67 L387.45,723.61 L389.45,723.56 L391.45,723.51 L393.45,723.45 L395.45,723.40 L397.45,723.35 L399.44,723.29 L401.44,723.24 L403.44,723.19 L405.44,723.13 L407.44,723.08 L409.44,723.03 L411.44,722.98 L413.44,722.92 L415.44,722.87 L417.43,722.82 L419.43,722.77 L421.43,722.72 L423.43,722.66 L425.43,722.61 L427.43,722.56 L429.43,722.51 L431.43,722.46 L433.43,722.41 L435.42,722.36 L437.42,722.31 L439.42,722.26 L441.42,722.21 L443.42,722.16 L445.42,722.11 L447.42,722.06 L449.41,722.01 L451.41,721.96 L453.41,721.91 L455.41,721.86 L457.41,721.81 L459.41,721.76 L461.41,721.71 L463.40,721.66 L465.40,721.61 L467.40,721.56 L469.40,721.52 L471.40,721.47 L473.40,721.42 L475.40,721.37 L477.39,721.32 L479.39,721.28 L481.39,721.23 L483.39,721.18 L485.39,721.13 L487.39,721.09 L489.38,721.04 L491.38,720.99 L493.38,720.95 L495.38,720.90 L497.38,720.85 L499.38,720.81 L501.37,720.76 L503.37,720.71 L505.37,720.67 L507.37,720.62 L509.37,720.57 L511.37,720.53 L513.36,720.48 L515.36,720.44 L517.36,720.39 L519.36,720.35 L521.36,720.30 L523.36,720.26 L525.35,720.21 L527.35,720.17 L529.35,720.12 L531.35,720.08 L533.35,720.03 L535.34,719.99 L537.34,719.95 L539.34,719.90 L541.34,719.86 L543.34,719.81 L545.34,719.77 L547.33,719.73 L549.33,719.68 L551.33,719.64 L553.33,719.60 L555.33,719.55 L557.32,719.51 L559.32,719.47 L561.32,719.42 L563.32,719.38 L565.32,719.34 L567.31,719.30 L569.31,719.25 L571.31,719.21 L573.31,719.17 L575.31,719.13 L577.30,719.09 L579.30,719.04 L581.30,719.00 L583.30,718.96 L585.30,718.92 L587.30,718.88 L589.29,718.84 L591.29,718.80 L593.29,718.75 L595.29,718.71 L597.29,718.67 L599.28,718.63 L601.28,718.59 L603.28,718.55 L605.28,718.51 L607.28,718.47 L609.27,718.43 L611.27,718.39 L613.27,718.35 L615.27,718.31 L617.26,718.27 L619.26,718.23 L621.26,718.19 L623.26,718.15 L625.26,718.11 L627.25,718.07 L629.25,718.03 L631.25,717.99 L633.25,717.96 L635.25,717.92 L637.24,717.88 L639.24,717.84 L641.24,717.80 L643.24,717.76 L645.24,717.72 L647.23,717.69 L649.23,717.65 L651.23,717.61 L653.23,717.57 L655.23,717.53 L657.22,717.49 L659.22,717.46 L661.22,717.42 L663.22,717.38 L665.22,717.34 L667.21,717.31 L669.21,717.27 L671.21,717.23 L673.21,717.20 L675.21,717.16 L677.20,717.12 L679.20,717.08 L681.20,717.05 L683.20,717.01 L685.20,716.97 L687.19,716.94 L689.19,716.90 L691.19,716.87 L693.19,716.83 L695.19,716.79 L697.18,716.76 L699.18,716.72 L701.18,716.69 L703.18,716.65 L705.17,716.61 L707.17,716.58 L709.17,716.54 L711.17,716.51 L713.17,716.47 L715.16,716.44 L717.16,716.40 L719.16,716.37 L721.16,716.33 L723.16,716.30 L725.16,716.26 L727.15,716.23 L729.15,716.19 L731.15,716.16 L733.15,716.12 L735.15,716.09 L737.14,716.05 L739.14,716.02 L741.14,715.98 L743.14,715.95 L745.14,715.92 L747.13,715.88 L749.13,715.85 L751.13,715.81 L753.13,715.78 L755.13,715.75 L757.12,715.71 L759.12,715.68 L761.12,715.65 L763.12,715.61 L765.12,715.58 L767.12,715.55 L769.11,715.51 L771.11,715.48 L773.11,715.45 L775.11,715.41 L777.11,715.38 L779.10,715.35 L781.10,715.31 L783.10,715.28 L785.10,715.25 L787.10,715.22 L789.10,715.18 L791.09,715.15 L793.09,715.12 L795.09,715.09 L797.09,715.05 L799.09,715.02 L801.09,714.99 L803.08,714.96 L805.08,714.93 L807.08,714.89 L809.08,714.86 L811.08,714.83 L813.08,714.80 L815.07,714.77 L817.07,714.74 L819.07,714.70 L821.07,714.67 L823.07,714.64 L825.07,714.61 L827.06,714.58 L829.06,714.55 L831.06,714.52 L833.06,714.48 L835.06,714.45 L837.06,714.42 L839.06,714.39 L841.05,714.36 L843.05,714.33 L845.05,714.30 L847.05,714.27 L849.05,714.24 L851.05,714.21 L853.05,714.18 L855.04,714.14 L857.04,714.11 L859.04,714.08 L861.04,714.05 L863.04,714.02 L865.04,713.99 L867.04,713.96 L869.04,713.93 L871.03,713.90 L873.03,713.87 L875.03,713.84 L877.03,713.81 L879.03,713.78 L881.03,713.75 L883.03,713.72 L885.03,713.69 L887.02,713.66 L889.02,713.63 L891.02,713.60 L893.02,713.57 L895.02,713.54 L897.02,713.51 L899.02,713.48 L901.02,713.45 L903.02,713.43 L905.02,713.40 L907.01,713.37 L909.01,713.34 L911.01,713.31 L913.01,713.28 L915.01,713.25 L917.01,713.22 L919.01,713.19 L921.01,713.16 L923.01,713.13 L925.01,713.10 L927.01,713.08" stroke="#997300"/>
</g>
<!-- markers -->
<rect x="785.8" y="223.5" width="25.5" height="25.5" fill="#ED7D31"/>
<path d="M798.2,470.3 L809.9,482.7 L798.2,495 L786.5,482.7 Z" fill="#9E480E"/>
<circle cx="803.8" cy="702.1" r="11.8" fill="#FFC000"/>
<path d="M845.8,700.2 L858,724.8 L833.6,724.8 Z" fill="#997300"/>
<!-- leaders -->
<g stroke="#444" stroke-width="3.8" fill="none" stroke-linecap="round">
<path d="M935,161.3 H1039"/>
<path d="M931,412.4 H1035"/>
<path d="M850,642.4 H1041.5"/>
<path d="M597.5,765.3 H630"/>
<path d="M217.5,803.6 H238"/>
</g>
<g stroke="#1a1a1a" stroke-width="2.8" fill="none" stroke-linejoin="miter" stroke-linecap="butt">
<path d="M936,160.9 H881.8 L796,211.5"/>
<path d="M808.2,192.7 L796,211.5 L820.4,211.8"/>
<path d="M932,411.8 H879.5 L796,462.8"/>
<path d="M806.7,442.7 L796,462.8 L820.2,463.1"/>
<path d="M852,642.2 H843.1 L799.3,681.3"/>
<path d="M805.5,658.7 L799.3,681.3 L822,677.8"/>
<path d="M629,765.8 H802.7 L839,726.6"/>
<path d="M816,733.5 L839,726.6 L833.5,749.1"/>
<path d="M237,804.2 H467.6 L514,770.6"/>
<path d="M490.3,773.5 L514,770.6 L504.2,792.1"/>
</g>
<!-- labels -->
<g font-size="36">
<text x="886.5" y="141.9">Total</text>
<text x="884.6" y="395">Concrete</text>
<text x="828.9" y="626.2">Reinforcement</text>
<text x="622.3" y="752.2">Innter tube</text>
<text x="227.5" y="789.3">Cover Concrete</text>
</g>
<g font-size="39">
<text x="122.5" y="828.2" text-anchor="end">0</text>
<text x="122.5" y="697.3" text-anchor="end">100</text>
<text x="122.5" y="566.4" text-anchor="end">200</text>
<text x="122.5" y="435.4" text-anchor="end">300</text>
<text x="122.5" y="304.5" text-anchor="end">400</text>
<text x="122.5" y="173.6" text-anchor="end">500</text>
<text x="122.5" y="42.7" text-anchor="end">600</text>

<text x="155.3" y="873" text-anchor="middle">0</text>
<text x="335.3" y="873" text-anchor="middle">50</text>
<text x="515.3" y="873" text-anchor="middle">100</text>
<text x="695.3" y="873" text-anchor="middle">150</text>
<text x="875.3" y="873" text-anchor="middle">200</text>
<text x="1055.3" y="873" text-anchor="middle">250</text>

<text x="603.5" y="927.7" text-anchor="middle">Displacement (mm)</text>
<text transform="translate(46.2,424.6) rotate(-90)" text-anchor="middle">Lateral Load (kN)</text>
</g>
</g>
</svg>
</body></html>
